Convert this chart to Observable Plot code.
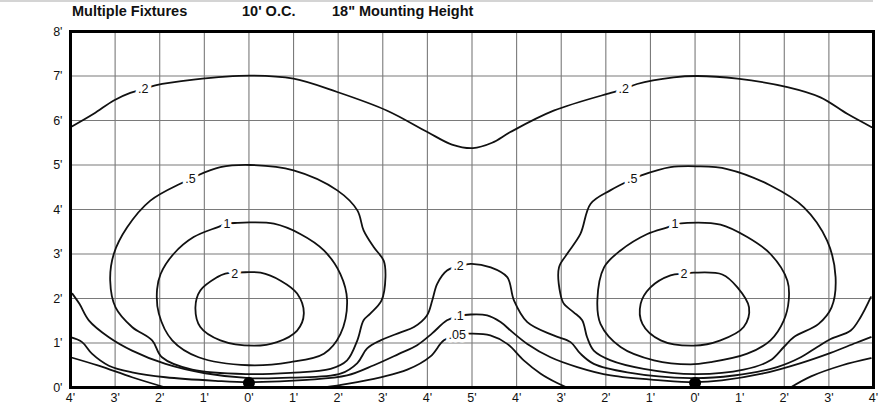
<!DOCTYPE html>
<html>
<head>
<meta charset="utf-8">
<script src="https://cdn.jsdelivr.net/npm/d3@7"></script>
<script src="https://cdn.jsdelivr.net/npm/@observablehq/plot@0.6"></script>
<style>
  html, body { margin: 0; padding: 0; background: #fff; }
  #topline { position: absolute; left: 0; top: 0; width: 873px; height: 2px; background: #d4d4d4; }
  #title { position: relative; height: 20px; font-family: "Liberation Sans", Arial, sans-serif; font-weight: bold; font-size: 14.5px; color: #111; }
  #title span { position: absolute; top: 4px; line-height: 1; white-space: nowrap; }
  #chart svg { display: block; }
</style>
</head>
<body>
<div id="topline"></div>
<div id="title">
  <span style="left:72px">Multiple Fixtures</span>
  <span style="left:242px">10' O.C.</span>
  <span style="left:332px">18" Mounting Height</span>
</div>
<div id="chart"></div>
<script>
// ---- Data (feet; x measured from the first fixture, second fixture at x = 10) ----
const xTicks = [-4,-3,-2,-1,0,1,2,3,4,5,6,7,8,9,10,11,12,13,14];
const xTickLabels = ["4'","3'","2'","1'","0'","1'","2'","3'","4'","5'","4'","3'","2'","1'","0'","1'","2'","3'","4'"];
const yTicks = [0,1,2,3,4,5,6,7,8];
const yTickLabels = ["0'","1'","2'","3'","4'","5'","6'","7'","8'"];

const fixturesX = [0, 10];
const fixturesY = [0.1, 0.1];

// 2 fc contours (closed)
const c2Left = [[-0.53,2.56],[-0.32,2.58],[-0.08,2.59],[0.26,2.58],[0.71,2.40],[1.08,2.11],[1.23,1.66],[1.08,1.28],[0.63,1.02],[0.11,0.94],[-0.64,1.06],[-1.09,1.36],[-1.20,1.80],[-1.09,2.18],[-0.71,2.48]];
const c2Right = [[9.45,2.52],[9.75,2.56],[9.97,2.58],[10.61,2.54],[10.95,2.25],[11.21,1.80],[11.09,1.36],[10.57,1.06],[9.97,0.94],[9.23,1.06],[8.82,1.43],[8.78,1.88],[9.0,2.25]];

// 1 fc contours (closed)
const c1Left = [[-0.71,3.60],[-0.49,3.68],[-0.26,3.70],[0.03,3.71],[0.56,3.68],[1.15,3.45],[1.68,3.08],[2.05,2.55],[2.20,1.96],[2.05,1.20],[1.68,0.76],[0.93,0.57],[0,0.50],[-1.13,0.68],[-1.72,1.06],[-2.02,1.66],[-2.06,2.20],[-1.98,2.55],[-1.69,3.0],[-1.24,3.38]];
const c1Right = [[9.38,3.60],[9.55,3.66],[9.83,3.70],[10.57,3.66],[11.17,3.38],[11.69,3.0],[12.07,2.40],[12.10,1.96],[11.99,1.51],[11.69,1.06],[11.17,0.76],[10.35,0.57],[9.9,0.52],[9.08,0.61],[8.33,0.91],[7.88,1.43],[7.81,1.96],[7.96,2.70],[8.33,3.08],[8.93,3.45]];

// .5 fc contours (closed)
const c05Left = [[-1.54,4.58],[-1.31,4.68],[-1.16,4.76],[-0.64,4.95],[0.03,5.0],[1.0,4.88],[1.98,4.43],[2.43,3.98],[2.57,3.53],[2.80,3.15],[3.02,2.85],[3.06,2.48],[2.97,1.95],[2.72,1.66],[2.57,1.51],[2.43,1.06],[2.20,0.61],[1.83,0.42],[0.93,0.33],[0,0.30],[-1.27,0.40],[-1.95,0.68],[-2.17,1.06],[-2.62,1.36],[-2.99,1.80],[-3.11,2.40],[-3.03,3.0],[-2.73,3.60],[-2.21,4.2]];
const c05Right = [[8.10,4.43],[8.59,4.68],[8.78,4.76],[9.45,4.95],[10.05,4.97],[10.72,4.91],[11.69,4.54],[12.44,4.05],[12.96,3.30],[13.15,2.48],[13.06,1.80],[12.77,1.43],[12.21,1.13],[11.99,0.91],[11.69,0.61],[11.09,0.40],[10,0.30],[8.85,0.42],[8.11,0.61],[7.73,0.83],[7.58,1.13],[7.47,1.51],[7.28,1.69],[7.06,1.88],[6.98,2.11],[6.95,2.70],[7.13,3.0],[7.43,3.45],[7.66,4.13]];

// .2 fc contours (open)
const c02Top = [[-3.96,5.87],[-3.48,6.15],[-3.03,6.45],[-2.66,6.62],[-2.37,6.70],[-2.10,6.79],[-1.24,6.92],[0.03,7.01],[1.0,6.94],[1.98,6.64],[3.10,6.22],[4.0,5.74],[4.55,5.46],[5.02,5.38],[5.45,5.50],[5.86,5.74],[6.83,6.22],[8.11,6.62],[8.40,6.70],[8.70,6.82],[9.52,6.97],[10.05,7.0],[10.95,6.94],[12.07,6.75],[12.81,6.52],[13.41,6.15],[13.96,5.85]];
const c02Low = [[-3.96,2.11],[-3.80,1.88],[-3.59,1.51],[-3.14,1.13],[-2.62,0.83],[-1.87,0.53],[-0.98,0.32],[0,0.21],[0.93,0.22],[2.05,0.31],[2.43,0.55],[2.65,0.88],[2.95,1.06],[3.40,1.24],[3.70,1.36],[3.99,1.62],[4.11,1.96],[4.22,2.33],[4.44,2.63],[4.70,2.72],[4.97,2.78],[5.42,2.70],[5.79,2.48],[5.94,1.96],[6.24,1.47],[6.83,1.17],[7.21,1.02],[7.43,0.76],[7.73,0.53],[8.48,0.34],[9.90,0.21],[10.87,0.27],[11.84,0.46],[12.37,0.68],[12.74,0.91],[13.04,1.09],[13.49,1.28],[13.71,1.58],[13.94,2.03]];

// .1 fc contour (open)
const c01 = [[-4.0,1.13],[-3.74,1.02],[-3.52,0.76],[-3.14,0.49],[-2.62,0.34],[-1.87,0.23],[-0.75,0.15],[0,0.12],[1.30,0.17],[2.20,0.27],[2.80,0.50],[3.35,0.75],[3.77,0.95],[4.10,1.21],[4.44,1.51],[4.70,1.60],[4.97,1.64],[5.34,1.62],[5.64,1.47],[5.90,1.25],[6.24,0.98],[6.76,0.68],[7.36,0.46],[8.11,0.27],[9.23,0.16],[10,0.12],[10.6,0.16],[11.5,0.31],[12.37,0.55],[13.04,0.78],[13.6,1.0],[13.94,1.13]];

// .05 fc contours (open segments)
const c005a = [[-4.0,0.68],[-3.37,0.49],[-2.62,0.23],[-1.87,0.0]];
const c005b = [[1.68,0.0],[2.20,0.08],[2.95,0.23],[3.55,0.40],[4.07,0.70],[4.37,1.06],[4.70,1.19],[5.0,1.21],[5.41,1.17],[5.79,0.98],[6.16,0.61],[6.54,0.31],[6.91,0.10],[7.13,0.0]];
const c005c = [[12.14,0.0],[12.6,0.25],[13.3,0.5],[13.94,0.66]];

// contour value labels
const labelText = [".2",".2",".5",".5","1","1","2","2",".2",".1",".05"];
const labelX = [-2.37,8.40,-1.31,8.59,-0.49,9.55,-0.32,9.75,4.70,4.70,4.67];
const labelY = [6.70,6.70,4.68,4.68,3.68,3.68,2.56,2.56,2.72,1.60,1.19];

// ---- Build ----
const closedLoops = [c2Left, c2Right, c1Left, c1Right, c05Left, c05Right];
const openLines = [c02Top, c02Low, c01, c005a, c005b, c005c];
const labels = labelText.map((t, i) => ({t, x: labelX[i], y: labelY[i]}));
const fixtures = fixturesX.map((x, i) => ({x, y: fixturesY[i]}));

const lineStyle = {x: d => d[0], y: d => d[1], stroke: "#111", strokeWidth: 1.8};

const plot = Plot.plot({
  width: 882,
  height: 392,
  marginLeft: 70,
  marginRight: 9,
  marginTop: 11,
  marginBottom: 25,
  style: {fontFamily: "'Liberation Sans', Arial, sans-serif", fontSize: "12.5px", color: "#111", background: "#fff", overflow: "visible"},
  x: {domain: [-4, 14]},
  y: {domain: [0, 8]},
  marks: [
    Plot.ruleX(xTicks, {stroke: "#7a7a7a", strokeWidth: 1.1}),
    Plot.ruleY(yTicks, {stroke: "#7a7a7a", strokeWidth: 1.1}),
    ...closedLoops.map(c => Plot.line(c, {...lineStyle, curve: "catmull-rom-closed"})),
    ...openLines.map(c => Plot.line(c, {...lineStyle, curve: "catmull-rom"})),
    Plot.text(labels, {x: "x", y: "y", text: "t", fill: "#111", stroke: "white", strokeWidth: 7, fontSize: 12.5}),
    Plot.dot(fixtures, {x: "x", y: "y", r: 6, fill: "#000", stroke: "none"}),
    Plot.frame({stroke: "#000", strokeWidth: 3}),
    Plot.axisX(xTicks, {tickSize: 0, tickPadding: 6, label: null, tickFormat: d => xTickLabels[xTicks.indexOf(d)]}),
    Plot.axisY(yTicks, {tickSize: 0, tickPadding: 8, label: null, tickFormat: d => yTickLabels[yTicks.indexOf(d)]})
  ]
});
document.getElementById("chart").appendChild(plot);
</script>
</body>
</html>
